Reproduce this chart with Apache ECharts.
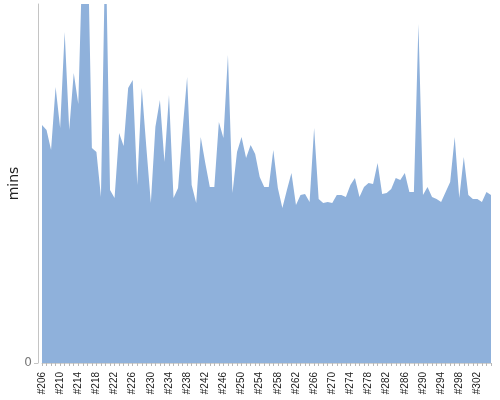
<!DOCTYPE html>
<html>
<head>
<meta charset="utf-8">
<script src="https://cdn.jsdelivr.net/npm/echarts@6/dist/echarts.min.js"></script>
<style>html,body{margin:0;padding:0;background:#fff}#c{width:500px;height:400px}</style>
</head>
<body>
<div id="c"></div>
<script>
// Build numbers #206 .. #305
const firstBuild = 206;
const buildCount = 100;
const categories = [];
for (let i = 0; i < buildCount; i++) categories.push('#' + (firstBuild + i));

// Duration values (mins)
const durations = [
  238, 233, 213, 276, 235, 331, 233, 290, 259, 420,
  440, 215, 211, 166, 430, 173, 165, 230, 217, 275,
  283, 178, 275, 216, 160, 236, 263, 201, 268, 165,
  175, 233, 286, 178, 160, 226, 200, 176, 176, 241,
  225, 308, 170, 211, 226, 205, 218, 209, 186, 176,
  176, 213, 175, 155, 173, 190, 158, 168, 169, 161,
  235, 164, 160, 161, 160, 168, 168, 166, 178, 185,
  166, 176, 180, 179, 200, 169, 170, 174, 185, 183,
  190, 171, 171, 339, 168, 176, 166, 164, 161, 171,
  181, 226, 165, 206, 168, 164, 164, 161, 171, 168
];

const yMax = 359;
const yTicks = [0];

const chart = echarts.init(document.getElementById('c'), null, {renderer: 'canvas'});
chart.setOption({
  animation: false,
  backgroundColor: '#fff',
  grid: {left: 42, right: 9, top: 4, bottom: 37, containLabel: false, outerBoundsMode: 'none'},
  xAxis: {
    type: 'category',
    data: categories,
    boundaryGap: false,
    axisLine: {show: true, lineStyle: {color: '#d0d0d0', width: 1}},
    axisTick: {show: true, interval: 0, length: 3, lineStyle: {color: '#b8b8b8'}},
    axisLabel: {
      interval: 3, rotate: 90, margin: 9,
      fontFamily: 'Liberation Sans', fontSize: 10, color: '#222'
    },
    splitLine: {show: false}
  },
  yAxis: {
    type: 'value',
    min: 0, max: yMax,
    offset: 4,
    name: 'mins',
    nameLocation: 'middle',
    nameGap: 17,
    nameMoveOverlap: false,
    nameTextStyle: {fontFamily: 'DejaVu Sans', fontSize: 14, color: '#222'},
    axisLine: {show: true, lineStyle: {color: '#c4c4c4', width: 1}},
    axisTick: {show: true, length: 4, customValues: yTicks, lineStyle: {color: '#c4c4c4'}},
    axisLabel: {customValues: yTicks, margin: 6, fontFamily: 'DejaVu Sans', fontSize: 12, color: '#777'},
    splitLine: {show: false}
  },
  series: [{
    type: 'line',
    data: durations,
    symbol: 'none',
    showSymbol: false,
    clip: true,
    lineStyle: {width: 0, color: '#8fb1db'},
    itemStyle: {color: '#8fb1db'},
    areaStyle: {color: '#8fb1db', opacity: 1}
  }]
});
</script>
</body>
</html>
